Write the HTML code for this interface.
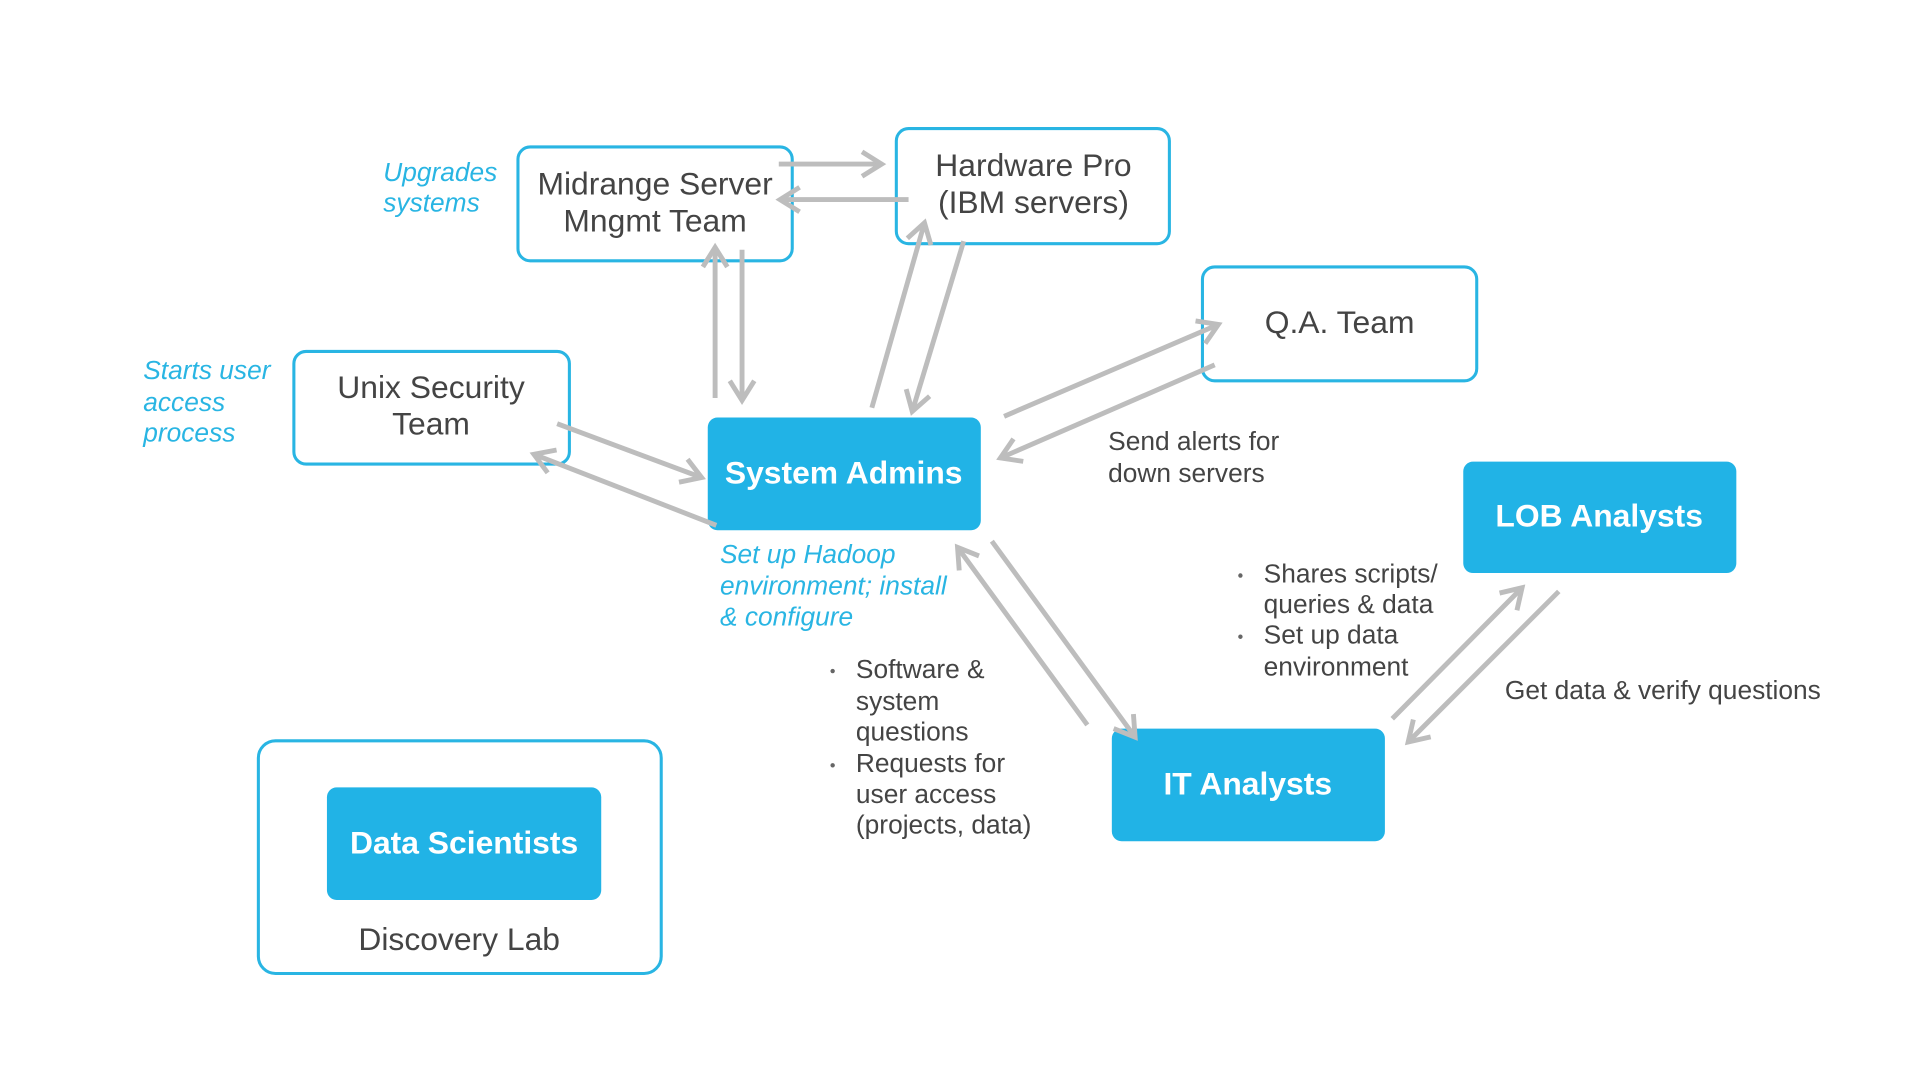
<!DOCTYPE html>
<html><head><meta charset="utf-8"><style>
html,body{margin:0;padding:0;background:#fff;}
svg{display:block;}
text{font-family:"Liberation Sans",Arial,sans-serif;dominant-baseline:middle;}
.n{font-size:26px;fill:#444;text-anchor:middle;}
.f{font-size:26px;fill:#fff;font-weight:bold;text-anchor:middle;}
.b{font-size:21.5px;fill:#29b5e3;font-style:italic;}
.g{font-size:21.5px;fill:#444;}
.box{fill:#fff;stroke:#29b5e3;stroke-width:2.5;}
.fill{fill:#21b3e6;}
.a{stroke:#bdbdbd;stroke-width:4;fill:none;marker-end:url(#m);}
</style></head><body>
<svg width="1920" height="1080" viewBox="0 -2 1568 882" preserveAspectRatio="none">
<defs><marker id="m" markerWidth="6" markerHeight="6" refX="4.5" refY="3" orient="auto" markerUnits="strokeWidth">
<polyline points="0.5,0.5 4.5,3 0.5,5.5" fill="none" stroke="#bdbdbd" stroke-width="1"/></marker></defs>

<rect class="box" x="423" y="118" width="224" height="93" rx="10"/>
<text class="n" x="535" y="150">Midrange Server</text><text class="n" x="535" y="180">Mngmt Team</text>
<rect class="box" x="732" y="103" width="223" height="94" rx="10"/>
<text class="n" x="844" y="135">Hardware Pro</text><text class="n" x="844" y="165">(IBM servers)</text>
<rect class="box" x="982" y="216" width="224" height="93" rx="10"/>
<text class="n" x="1094" y="263">Q.A. Team</text>
<rect class="box" x="240" y="285" width="225" height="92" rx="10"/>
<text class="n" x="352" y="316">Unix Security</text><text class="n" x="352" y="346">Team</text>
<rect class="fill" x="578" y="339" width="223" height="92" rx="8"/>
<text class="f" x="689" y="386">System Admins</text>
<rect class="fill" x="1195" y="375" width="223" height="91" rx="8"/>
<text class="f" x="1306" y="421">LOB Analysts</text>
<rect class="fill" x="908" y="593" width="223" height="92" rx="8"/>
<text class="f" x="1019" y="640">IT Analysts</text>
<rect class="box" x="211" y="603" width="329" height="190" rx="14"/>
<rect class="fill" x="267" y="641" width="224" height="92" rx="8"/>
<text class="f" x="379" y="688">Data Scientists</text>
<text class="n" x="375" y="767">Discovery Lab</text>

<line class="a" x1="636" y1="132" x2="720" y2="132"/>
<line class="a" x1="742" y1="161" x2="637" y2="161"/>
<line class="a" x1="584" y1="323" x2="584" y2="200"/>
<line class="a" x1="606" y1="202" x2="606" y2="325"/>
<line class="a" x1="712" y1="331" x2="755" y2="180"/>
<line class="a" x1="787" y1="195" x2="745" y2="334"/>
<line class="a" x1="820" y1="338" x2="995" y2="263"/>
<line class="a" x1="992" y1="296" x2="817" y2="372"/>
<line class="a" x1="455" y1="344" x2="573" y2="388"/>
<line class="a" x1="585" y1="427" x2="436" y2="369"/>
<line class="a" x1="888" y1="590" x2="782" y2="445"/>
<line class="a" x1="810" y1="440" x2="927" y2="600"/>
<line class="a" x1="1137" y1="585" x2="1243" y2="478"/>
<line class="a" x1="1273" y1="481" x2="1150" y2="604"/>

<text class="b" x="313" y="140">Upgrades</text><text class="b" x="313" y="165">systems</text>
<text class="b" x="117" y="302">Starts user</text><text class="b" x="117" y="328">access</text><text class="b" x="117" y="353">process</text>
<text class="b" x="588" y="452">Set up Hadoop</text><text class="b" x="588" y="478">environment; install</text><text class="b" x="588" y="503">&amp; configure</text>
<text class="g" x="905" y="360">Send alerts for</text><text class="g" x="905" y="386">down servers</text>
<circle cx="680" cy="546" r="1.8" fill="#666"/>
<text class="g" x="699" y="546">Software &amp;</text><text class="g" x="699" y="572">system</text><text class="g" x="699" y="597">questions</text>
<circle cx="680" cy="623" r="1.8" fill="#666"/>
<text class="g" x="699" y="623">Requests for</text><text class="g" x="699" y="648">user access</text><text class="g" x="699" y="673">(projects, data)</text>
<circle cx="1013" cy="468" r="1.8" fill="#666"/>
<text class="g" x="1032" y="468">Shares scripts/</text><text class="g" x="1032" y="493">queries &amp; data</text>
<circle cx="1013" cy="518" r="1.8" fill="#666"/>
<text class="g" x="1032" y="518">Set up data</text><text class="g" x="1032" y="544">environment</text>
<text class="g" x="1229" y="563">Get data &amp; verify questions</text>
</svg>
</body></html>
